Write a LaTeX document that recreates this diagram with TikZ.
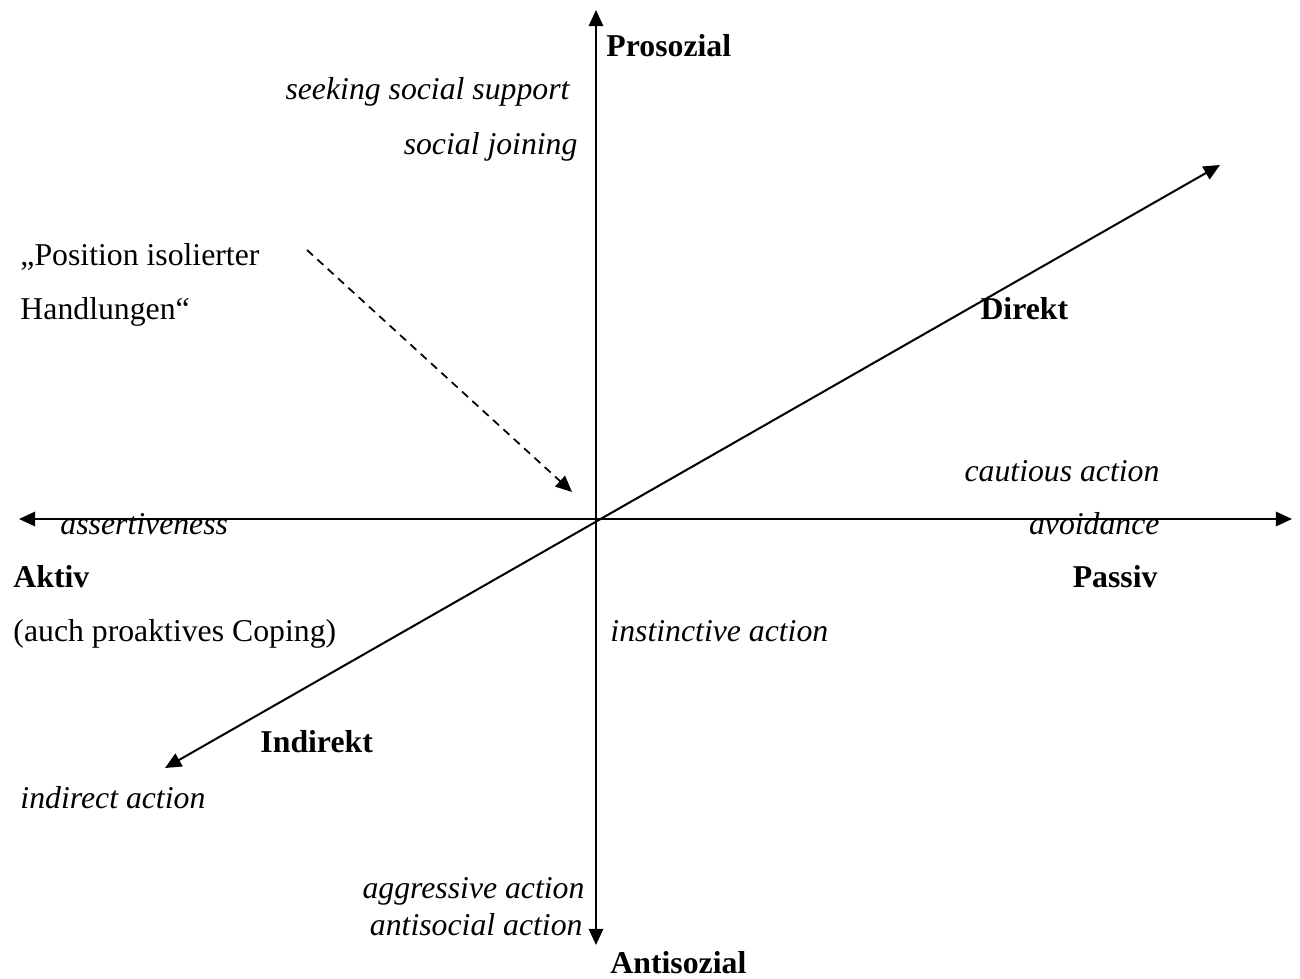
\documentclass[tikz,border=0pt]{standalone}
\usepackage{fontspec}
\setmainfont{Liberation Serif}
\usepackage{tikz}
\usetikzlibrary{arrows.meta}
\tikzstyle{arrow} = [line width=0.8pt,>={Triangle[length=6.5pt,width=5.8pt]}]
\tikzstyle{rimando} = [line width=0.7pt,dash pattern=on 3.2pt off 2.4pt,->,>={Triangle[length=6.5pt,width=5.8pt]}]
\tikzstyle{polo} = [inner sep=0pt, font=\fontsize{12.7pt}{15pt}\selectfont\bfseries]
\tikzstyle{strategia} = [inner sep=0pt, font=\fontsize{12.7pt}{15pt}\selectfont\itshape]
\tikzstyle{testo} = [inner sep=0pt, font=\fontsize{12.7pt}{15pt}\selectfont]

\begin{document}
\begin{tikzpicture}[x=0.4pt,y=0.4pt]
	\useasboundingbox (-596,-460) rectangle (704,519);
	\coordinate (nord) at (0,509);
	\coordinate (sud) at (0,-426);
	\coordinate (ovest) at (-577,0);
	\coordinate (est) at (696,0);
	\coordinate (ind) at (-431,-249);
	\coordinate (dir) at (624,354);
	\coordinate (pos) at (-289,269);
	\coordinate (centro) at (-24,27);
	\draw[arrow,<->] (sud) -- (nord);
	\draw[arrow,<->] (ovest) -- (est);
	\draw[arrow,<->] (ind) -- (dir);
	\draw[rimando] (pos) -- (centro);

	\node (proso) at (10,462) [polo,anchor=base west] {Prosozial};
	\node (anti) at (14,-454) [polo,anchor=base west] {Antisozial};
	\node (aktiv) at (-583,-69) [polo,anchor=base west] {Aktiv};
	\node (passiv) at (562,-69) [polo,anchor=base east] {Passiv};
	\node (direkt) at (384,199) [polo,anchor=base west] {Direkt};
	\node (indirekt) at (-336,-233) [polo,anchor=base west] {Indirekt};

	\node (seek) at (-26,419) [strategia,anchor=base east] {seeking social support};
	\node (join) at (-18,364) [strategia,anchor=base east] {social joining};
	\node (caut) at (564,37) [strategia,anchor=base east] {cautious action};
	\node (avoid) at (564,-16) [strategia,anchor=base east] {avoidance};
	\node (assert) at (-536,-16) [strategia,anchor=base west] {assertiveness};
	\node (instinct) at (14,-123) [strategia,anchor=base west] {instinctive action};
	\node (indact) at (-576,-289) [strategia,anchor=base west] {indirect action};
	\node (aggr) at (-11,-379) [strategia,anchor=base east] {aggressive action};
	\node (antiact) at (-13,-416) [strategia,anchor=base east] {antisocial action};

	\node (pos1) at (-576,253) [testo,anchor=base west] {„Position isolierter};
	\node (pos2) at (-576,199) [testo,anchor=base west] {Handlungen“};
	\node (auch) at (-583,-123) [testo,anchor=base west] {(auch proaktives Coping)};
\end{tikzpicture}
\end{document}
